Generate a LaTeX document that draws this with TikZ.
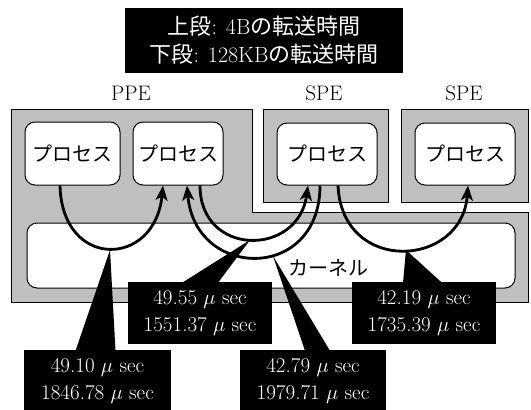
\documentclass[tikz,border=0pt]{standalone}
\usepackage{fontspec}
\newfontfamily\jp{Noto Sans CJK JP}
\usetikzlibrary{arrows.meta}
\tikzset{
  grayreg/.style={draw=black, line width=0.8pt, fill=black!25},
  procbox/.style={draw, line width=1pt, fill=white, rounded corners=10pt,
    font=\jp\fontsize{20}{24}\selectfont, inner sep=0pt},
  valbox/.style={fill=black, text=white, align=center,
    font=\fontsize{21}{27}\selectfont, inner sep=0pt},
  flow/.style={line width=2.8pt, -{Stealth[length=15pt,width=12pt,inset=4pt]}},
  wedge/.style={fill=black},
  unitlabel/.style={font=\fontsize{21}{25}\selectfont, inner sep=0pt}
}
\begin{document}
\begin{tikzpicture}[x=1pt,y=-1pt]
\useasboundingbox (0,0) rectangle (531,410);
% gray regions
\draw[grayreg] (11,109) -- (252,109) -- (252,212) -- (528,212) -- (528,302) -- (11,302) -- cycle;
\draw[grayreg] (263,109) rectangle (388,202);
\draw[grayreg] (401,109) rectangle (528,202);
% title
\node[valbox, minimum width=278pt, minimum height=65pt, font=\fontsize{22}{28}\selectfont]
  (title) at (264,40.5) {{\jp 上段}: 4B{\jp の転送時間}\\{\jp 下段}: 128KB{\jp の転送時間}};
% unit labels
\node[unitlabel] (ppe) at (131,93) {PPE};
\node[unitlabel] (spea) at (324,93) {SPE};
\node[unitlabel] (speb) at (464,93) {SPE};
% processes
\node[procbox, minimum width=95pt, minimum height=63pt] (p1) at (72.5,153.5) {プロセス};
\node[procbox, minimum width=90pt, minimum height=63pt] (p2) at (178,153.5) {プロセス};
\node[procbox, minimum width=100pt, minimum height=62pt] (p3) at (327,154) {プロセス};
\node[procbox, minimum width=100pt, minimum height=62pt] (p4) at (465,154) {プロセス};
% kernel
\node[procbox, minimum width=488pt, minimum height=65pt] (kern) at (271,255.5) {};
\node[font=\jp\fontsize{20}{24}\selectfont, inner sep=0pt] (kl) at (328,268) {カーネル};
% flows
\draw[flow] ([xshift=-12.5pt]p1.south) .. controls (62,270) and (155,268) .. ([xshift=-15pt]p2.south);
\draw[flow] ([xshift=22pt]p2.south) .. controls (200,257) and (298,257) .. ([xshift=-19pt]p3.south);
\draw[flow] ([xshift=-7pt]p3.south) .. controls (320,282) and (195,280) .. ([xshift=9pt]p2.south);
\draw[flow] ([xshift=11pt]p3.south) .. controls (342,275) and (462,268) .. ([xshift=3pt]p4.south);
% value boxes
\node[valbox, minimum width=147pt, minimum height=62pt] (v1) at (97.5,381) {49.10 $\mu$ sec\\1846.78 $\mu$ sec};
\node[valbox, minimum width=144pt, minimum height=62pt] (v2) at (200,313) {49.55 $\mu$ sec\\1551.37 $\mu$ sec};
\node[valbox, minimum width=146pt, minimum height=62pt] (v3) at (313,381) {42.79 $\mu$ sec\\1979.71 $\mu$ sec};
\node[valbox, minimum width=144pt, minimum height=62pt] (v4) at (424,313) {42.19 $\mu$ sec\\1735.39 $\mu$ sec};
% pointers
\coordinate (t1) at (110,250);
\coordinate (t2) at (250,240);
\coordinate (t3) at (273,256);
\coordinate (t4) at (406,250);
\fill[wedge] ([xshift=-22pt,yshift=-1pt]v1.north) -- ([xshift=18pt,yshift=-1pt]v1.north) -- (t1) -- cycle;
\fill[wedge] ([xshift=-18pt,yshift=-1pt]v2.north) -- ([xshift=18pt,yshift=-1pt]v2.north) -- (t2) -- cycle;
\fill[wedge] ([xshift=-8pt,yshift=-1pt]v3.north) -- ([xshift=17pt,yshift=-1pt]v3.north) -- (t3) -- cycle;
\fill[wedge] ([xshift=-21pt,yshift=-1pt]v4.north) -- ([xshift=18pt,yshift=-1pt]v4.north) -- (t4) -- cycle;
\end{tikzpicture}
\end{document}
